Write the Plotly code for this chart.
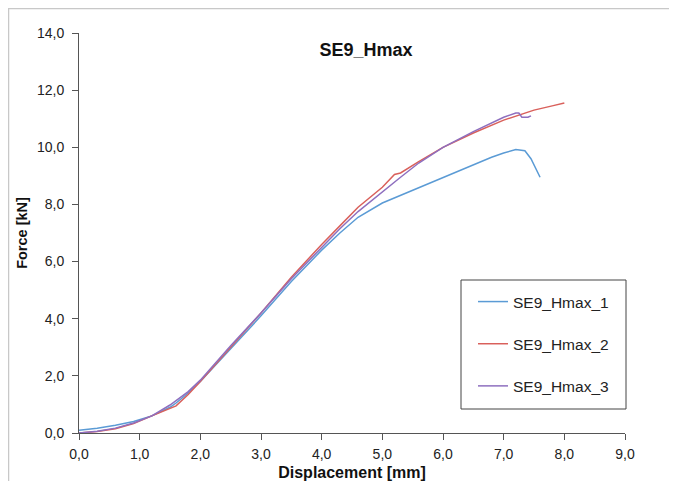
import plotly.graph_objects as go

# ---- data ----
x_tick_vals = [0, 1, 2, 3, 4, 5, 6, 7, 8, 9]
x_tick_text = ["0,0", "1,0", "2,0", "3,0", "4,0", "5,0", "6,0", "7,0", "8,0", "9,0"]
y_tick_vals = [0, 2, 4, 6, 8, 10, 12, 14]
y_tick_text = ["0,0", "2,0", "4,0", "6,0", "8,0", "10,0", "12,0", "14,0"]

s1_name = "SE9_Hmax_1"
s1_x = [0, 0.3, 0.6, 0.9, 1.2, 1.5, 1.6, 1.8, 2.0, 2.5, 3.0, 3.5, 4.0, 4.3, 4.6, 5.0,
        5.5, 6.0, 6.5, 6.8, 7.0, 7.2, 7.35, 7.45, 7.6]
s1_y = [0.1, 0.17, 0.27, 0.4, 0.6, 0.9, 1.05, 1.4, 1.8, 2.95, 4.1, 5.3, 6.4, 7.0, 7.55, 8.05,
        8.5, 8.95, 9.4, 9.65, 9.8, 9.92, 9.88, 9.6, 8.95]

s2_name = "SE9_Hmax_2"
s2_x = [0, 0.3, 0.6, 0.9, 1.2, 1.5, 1.6, 1.8, 2.0, 2.5, 3.0, 3.5, 4.0, 4.3, 4.6, 5.0,
        5.2, 5.3, 5.6, 6.0, 6.5, 7.0, 7.5, 7.8, 8.0]
s2_y = [0.0, 0.05, 0.15, 0.33, 0.6, 0.85, 0.95, 1.35, 1.8, 3.0, 4.2, 5.45, 6.6, 7.25, 7.9, 8.6,
        9.05, 9.1, 9.5, 10.0, 10.5, 10.95, 11.3, 11.45, 11.55]

s3_name = "SE9_Hmax_3"
s3_x = [0, 0.3, 0.6, 0.9, 1.2, 1.5, 1.8, 2.0, 2.5, 3.0, 3.5, 4.0, 4.3, 4.6, 5.0, 5.3,
        5.6, 6.0, 6.5, 7.0, 7.2, 7.25, 7.3, 7.4, 7.45]
s3_y = [0.0, 0.06, 0.17, 0.35, 0.6, 0.98, 1.45, 1.85, 3.05, 4.2, 5.4, 6.5, 7.15, 7.75, 8.45, 8.95,
        9.45, 10.0, 10.55, 11.05, 11.2, 11.2, 11.05, 11.05, 11.1]

colors = ["#5B9BD5", "#D9605B", "#8E6FBF"]

# The page body has an 8px margin; figure is sized/offset to compensate.
W, H = 669, 473
L, R, T, B = 71, 52, 25, 48
PW, PH = W - L - R, H - T - B


def px_x(fx):  # figure px -> paper x
    return (fx - L) / PW


def px_y(fy):  # figure px -> paper y
    return (H - B - fy) / PH


fig = go.Figure()
for i, (n, xs, ys) in enumerate([(s1_name, s1_x, s1_y), (s2_name, s2_x, s2_y), (s3_name, s3_x, s3_y)]):
    fig.add_trace(go.Scatter(x=xs, y=ys, mode="lines", name=n, legendgroup=n,
                             line=dict(color=colors[i], width=1.5)))

tick_font = dict(family="Liberation Sans, Arial", size=14, color="#222")
fig.update_layout(
    width=W, height=H,
    margin=dict(l=L, r=R, t=T, b=B, autoexpand=False),
    paper_bgcolor="white", plot_bgcolor="white",
    title=dict(text="<b>SE9_Hmax</b>", x=358 / W, xanchor="center", xref="container",
               y=1 - 42 / H, yanchor="middle", yref="container",
               font=dict(family="Liberation Sans, Arial", size=18, color="#111")),
    xaxis=dict(range=[0, 9], tickvals=x_tick_vals, ticktext=x_tick_text, showgrid=False,
               zeroline=False, showline=True, linecolor="#555", linewidth=1,
               ticks="outside", ticklen=6, tickcolor="#555", tickfont=tick_font,
               ticklabelstandoff=2, automargin=False,
               title=dict(text="<b>Displacement [mm]</b>",
                          font=dict(family="Liberation Sans, Arial", size=16, color="#111"),
                          standoff=6)),
    yaxis=dict(range=[0, 14], tickvals=y_tick_vals, ticktext=y_tick_text, showgrid=False,
               zeroline=False, showline=True, linecolor="#555", linewidth=1,
               ticks="outside", ticklen=6, tickcolor="#555", tickfont=tick_font,
               ticklabelstandoff=5, automargin=False,
               title=dict(text="<b>Force [kN]</b>",
                          font=dict(family="Liberation Sans, Arial", size=14.5, color="#111"),
                          standoff=5)),
    legend=dict(x=px_x(465), y=px_y(277), xanchor="left", yanchor="top",
                borderwidth=0, bgcolor="rgba(0,0,0,0)",
                font=dict(family="Liberation Sans, Arial", size=15.5, color="#222"),
                tracegroupgap=19),
    showlegend=True,
    shapes=[
        dict(type="rect", xref="paper", yref="paper",
             x0=px_x(0.5), x1=px_x(W + 20), y0=px_y(H + 20), y1=px_y(0.5),
             line=dict(color="#C8C8C8", width=1.5), layer="below"),
        dict(type="rect", xref="paper", yref="paper",
             x0=px_x(453), x1=px_x(618), y0=px_y(401), y1=px_y(272),
             line=dict(color="#444", width=1), fillcolor="white", layer="above"),
    ],
)

fig.write_html("out.html")
